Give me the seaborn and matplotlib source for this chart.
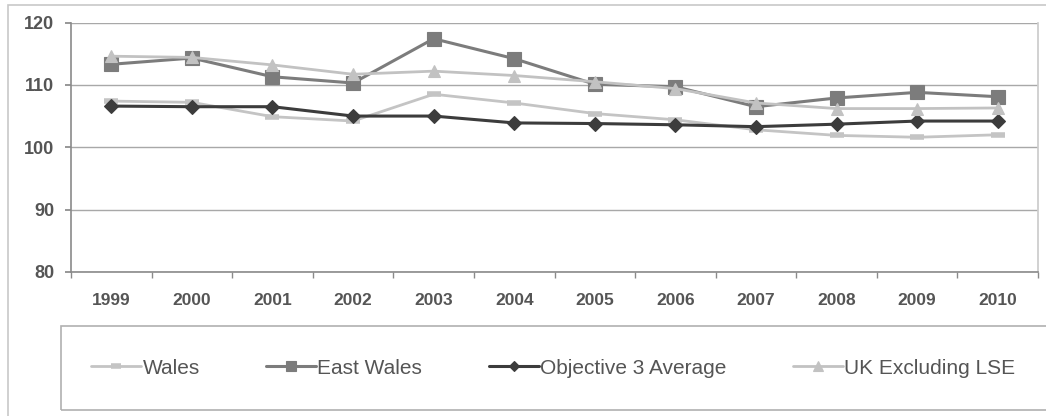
import matplotlib
matplotlib.use("Agg")
import matplotlib.pyplot as plt
from matplotlib.patches import Rectangle
from matplotlib.ticker import FixedLocator
import seaborn as sns
import pandas as pd

years = ["1999", "2000", "2001", "2002", "2003", "2004", "2005",
         "2006", "2007", "2008", "2009", "2010"]
wales = [107.4, 107.2, 104.9, 104.2, 108.5, 107.1, 105.4, 104.4, 102.8, 101.9, 101.6, 102.0]
east_wales = [113.3, 114.3, 111.3, 110.3, 117.4, 114.2, 110.1, 109.7, 106.5, 107.9, 108.8, 108.1]
objective3 = [106.6, 106.5, 106.5, 105.0, 105.0, 103.9, 103.8, 103.6, 103.3, 103.7, 104.2, 104.2]
uk_ex_lse = [114.6, 114.4, 113.2, 111.7, 112.2, 111.5, 110.5, 109.4, 107.1, 106.2, 106.2, 106.3]
series_names = ["Wales", "East Wales", "Objective 3 Average", "UK Excluding LSE"]
y_ticks = [80, 90, 100, 110, 120]

sns.set_theme(style="white")
plt.rcParams["font.family"] = ["Liberation Sans", "DejaVu Sans"]

frames = []
for name, vals in zip(series_names, [wales, east_wales, objective3, uk_ex_lse]):
    frames.append(pd.DataFrame({"year": years, "value": vals, "series": name}))
df = pd.concat(frames, ignore_index=True)

styles = {
    "Wales": dict(color="#c4c4c4", marker="_", markersize=10, markeredgewidth=4.0, linewidth=2.0),
    "East Wales": dict(color="#7c7c7c", marker="s", markersize=9.5, markeredgewidth=0.8, linewidth=2.2),
    "Objective 3 Average": dict(color="#3c3c3c", marker="D", markersize=7, markeredgewidth=0.8, linewidth=2.2),
    "UK Excluding LSE": dict(color="#c2c2c2", marker="^", markersize=9, markeredgewidth=0.8, linewidth=2.0),
}

fig = plt.figure(figsize=(10.46, 4.16), dpi=100)
ax = fig.add_axes([0.0679, 0.3462, 0.9924 - 0.0679, 0.9459 - 0.3462])

for name in series_names:
    st = styles[name]
    sub = df[df["series"] == name]
    sns.lineplot(data=sub, x="year", y="value", ax=ax, label=name,
                 color=st["color"], marker=st["marker"], markersize=st["markersize"],
                 markeredgewidth=st["markeredgewidth"], markeredgecolor=st["color"],
                 markerfacecolor=st["color"], linewidth=st["linewidth"],
                 sort=False, estimator=None)

ax.set_ylim(80, 120)
ax.set_xlim(-0.5, len(years) - 0.5)
ax.set_yticks(y_ticks)
ax.yaxis.grid(True, color="#a8a8a8", linewidth=1.0)
ax.set_axisbelow(True)
ax.set_xlabel("")
ax.set_ylabel("")

ax.spines["left"].set_color("#8a8a8a")
ax.spines["bottom"].set_color("#8a8a8a")
ax.spines["left"].set_linewidth(1.2)
ax.spines["bottom"].set_linewidth(1.2)
ax.spines["right"].set_color("#cccccc")
ax.spines["top"].set_visible(False)

ax.xaxis.set_minor_locator(FixedLocator([i - 0.5 for i in range(len(years) + 1)]))
ax.tick_params(axis="x", which="major", length=0, pad=15, labelsize=12.5, labelcolor="#555555")
ax.tick_params(axis="x", which="minor", bottom=True, length=4, color="#8a8a8a", direction="out")
ax.tick_params(axis="y", which="major", left=True, length=4, color="#8a8a8a", direction="out",
               pad=8, labelsize=13, labelcolor="#555555")
for lab in ax.get_xticklabels() + ax.get_yticklabels():
    lab.set_fontweight("bold")

handles, labels = ax.get_legend_handles_labels()
ax.get_legend().remove()
fig.legend(handles, labels, loc="center", bbox_to_anchor=(0.529, 0.115), ncol=4,
           frameon=False, fontsize=15, handlelength=2.4, handletextpad=0.05,
           columnspacing=3.2, labelcolor="#555555", markerscale=0.75)

fig.patches.append(Rectangle((61 / 1046, 6 / 416), 1.0, 84 / 416, transform=fig.transFigure,
                             fill=False, edgecolor="#b0b0b0", linewidth=1.2, figure=fig))
fig.patches.append(Rectangle((8 / 1046, -0.02), 1.1, 1 - 5 / 416 + 0.02, transform=fig.transFigure,
                             fill=False, edgecolor="#c8c8c8", linewidth=1.2, figure=fig))

fig.savefig("out.png", dpi=100, facecolor="white")
